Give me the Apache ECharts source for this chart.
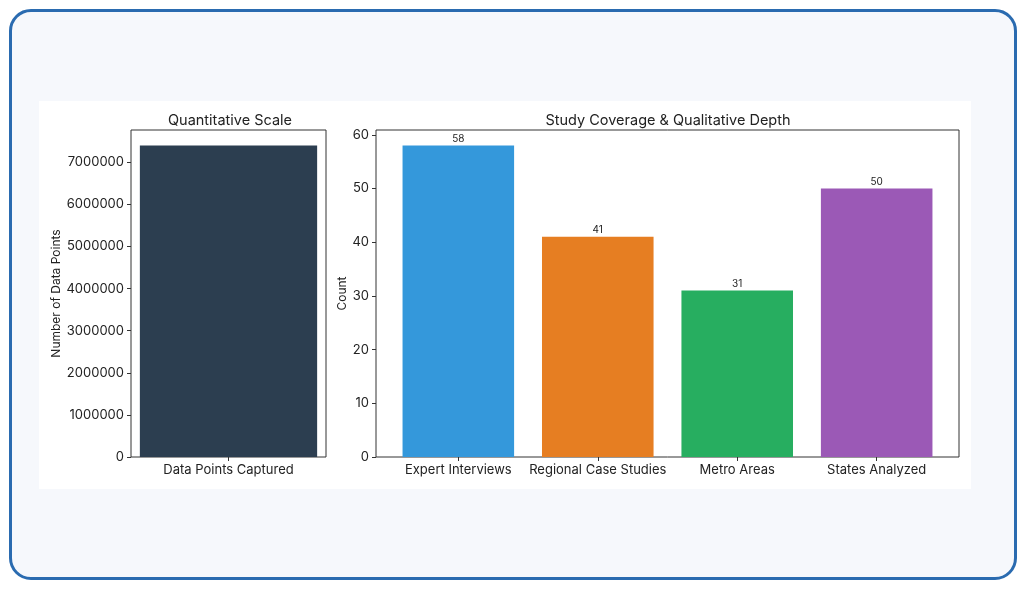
<!DOCTYPE html>
<html>
<head>
<meta charset="utf-8">
<script src="https://cdn.jsdelivr.net/npm/echarts@6/dist/echarts.min.js"></script>
<style>
  html, body { margin: 0; padding: 0; background: #ffffff; }
  #card {
    position: absolute; left: 9px; top: 9px; width: 1002px; height: 565px;
    border: 3px solid #2a6bb0; border-radius: 22px; background: #f6f8fc;
  }
  #panel {
    position: absolute; left: 39px; top: 101px; width: 932px; height: 388px;
    background: #ffffff;
  }
  #main { position: absolute; left: 0; top: 0; width: 1026px; height: 589px; }
</style>
</head>
<body>
<div id="card"></div>
<div id="panel"></div>
<div id="main"></div>
<script>
// left panel data
var scaleCategories = ['Data Points Captured'];
var scaleValues = [7400000];
var scaleTicks = [0, 1000000, 2000000, 3000000, 4000000, 5000000, 6000000, 7000000];

// right panel data
var depthCategories = ['Expert Interviews', 'Regional Case Studies', 'Metro Areas', 'States Analyzed'];
var depthValues = [58, 41, 31, 50];
var depthColors = ['#3498db', '#e67e22', '#27ae60', '#9b59b6'];
var depthTicks = [0, 10, 20, 30, 40, 50, 60];

var FONT = 'Inter';
var textColor = '#222222';
var frameColor = '#333333';

// matplotlib style headroom of 5%
var scaleMax = Math.max.apply(null, scaleValues) * 1.05;
var depthMax = Math.max.apply(null, depthValues) * 1.05;

// plain numbers, no thousands separators
function plain(v) { return String(v); }

var myChart = echarts.init(document.getElementById('main'), null, { renderer: 'canvas' });

var option = {
    animation: false,
    textStyle: { fontFamily: FONT },
    title: [
        { text: 'Quantitative Scale', left: 225, top: 108, textAlign: 'center',
          textStyle: { fontFamily: FONT, fontSize: 14.5, fontWeight: 'normal', color: textColor } },
        { text: 'Study Coverage & Qualitative Depth', left: 663, top: 108, textAlign: 'center',
          textStyle: { fontFamily: FONT, fontSize: 14.5, fontWeight: 'normal', color: textColor } }
    ],
    grid: [
        // 0: left frame
        { left: 131, right: 700, top: 130, bottom: 132, show: true, borderColor: frameColor, borderWidth: 1, backgroundColor: 'transparent' },
        // 1: left bars
        { left: 117.7, right: 686.7, top: 130, bottom: 132 },
        // 2: right frame
        { left: 376, right: 67, top: 130, bottom: 132, show: true, borderColor: frameColor, borderWidth: 1, backgroundColor: 'transparent' },
        // 3: right bars
        { left: 388.6, right: 79.6, top: 130, bottom: 132 }
    ],
    xAxis: [
        { gridIndex: 0, type: 'value', show: false, min: 0, max: 1 },
        { gridIndex: 1, type: 'category', data: scaleCategories,
          axisLine: { show: false },
          axisTick: { show: true, alignWithLabel: true, length: 4, lineStyle: { color: frameColor } },
          axisLabel: { fontFamily: FONT, fontSize: 13, color: textColor, margin: 7 } },
        { gridIndex: 2, type: 'value', show: false, min: 0, max: 1 },
        { gridIndex: 3, type: 'category', data: depthCategories,
          axisLine: { show: false },
          axisTick: { show: true, alignWithLabel: true, length: 4, lineStyle: { color: frameColor } },
          axisLabel: { fontFamily: FONT, fontSize: 13, color: textColor, margin: 7, interval: 0 } }
    ],
    yAxis: [
        { gridIndex: 0, type: 'value', min: 0, max: scaleMax,
          name: 'Number of Data Points', nameLocation: 'middle', nameGap: 69, nameRotate: 90,
          nameMoveOverlap: false,
          nameTextStyle: { fontFamily: FONT, fontSize: 12, color: textColor },
          splitLine: { show: false },
          axisLine: { show: false },
          axisTick: { show: true, length: 4, lineStyle: { color: frameColor }, customValues: scaleTicks },
          axisLabel: { fontFamily: FONT, fontSize: 13, color: textColor, margin: 7, customValues: scaleTicks, formatter: plain } },
        { gridIndex: 1, type: 'value', min: 0, max: scaleMax, show: false, splitLine: { show: false } },
        { gridIndex: 2, type: 'value', min: 0, max: depthMax,
          name: 'Count', nameLocation: 'middle', nameGap: 28, nameRotate: 90,
          nameMoveOverlap: false,
          nameTextStyle: { fontFamily: FONT, fontSize: 12, color: textColor },
          splitLine: { show: false },
          axisLine: { show: false },
          axisTick: { show: true, length: 4, lineStyle: { color: frameColor }, customValues: depthTicks },
          axisLabel: { fontFamily: FONT, fontSize: 13, color: textColor, margin: 7, customValues: depthTicks, formatter: plain } },
        { gridIndex: 3, type: 'value', min: 0, max: depthMax, show: false, splitLine: { show: false } }
    ],
    series: [
        { type: 'bar', xAxisIndex: 1, yAxisIndex: 1, barWidth: '80%',
          itemStyle: { color: '#2c3e50' }, data: scaleValues },
        { type: 'bar', xAxisIndex: 3, yAxisIndex: 3, barWidth: '80%',
          data: depthValues.map(function (v, i) {
              return { value: v, itemStyle: { color: depthColors[i] } };
          }),
          label: { show: true, position: 'top', distance: 2, fontFamily: FONT, fontSize: 10, color: textColor } }
    ]
};

myChart.setOption(option);
</script>
</body>
</html>
